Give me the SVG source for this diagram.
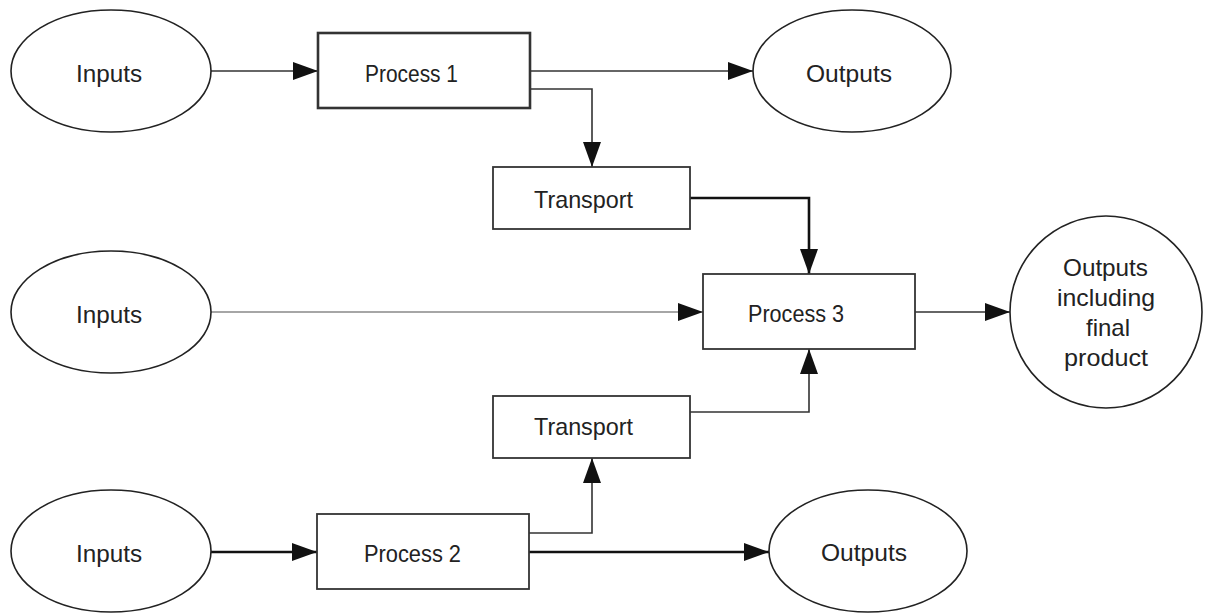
<svg xmlns="http://www.w3.org/2000/svg" width="1205" height="613" viewBox="0 0 1205 613">
  <defs>
    <marker id="arrow" markerUnits="userSpaceOnUse" markerWidth="26" markerHeight="20" refX="25" refY="9" orient="auto">
      <path d="M0,0 L25,9 L0,18 Z" fill="#111"/>
    </marker>
  </defs>
  <style>
    .oval { fill: #fff; stroke: #222; stroke-width: 1.6; }
    .box { fill: #fff; stroke: #333; stroke-width: 1.8; }
    .box.heavy { stroke-width: 2.6; }
    .label { font-family: "Liberation Sans", Arial, sans-serif; font-size: 24px; fill: #222; }
    .link { fill: none; stroke: #333; stroke-width: 1.6; marker-end: url(#arrow); }
    .link.light { stroke: #888; }
    .link.heavy { stroke: #111; stroke-width: 2.6; }
  </style>
  <rect width="1205" height="613" fill="#fff"/>

  <!-- connectors -->
  <g id="connectors">
    <path class="link" d="M211,71 H318"/>
    <path class="link" d="M530,71 H753"/>
    <path class="link" d="M530,89 H592 V167"/>
    <path class="link heavy" d="M690,198 H809 V274"/>
    <path class="link light" d="M211,312 H703"/>
    <path class="link" d="M915,312 H1010"/>
    <path class="link" d="M690,412 H809 V349"/>
    <path class="link heavy" d="M211,552 H317"/>
    <path class="link" d="M529,533 H592 V458"/>
    <path class="link heavy" d="M529,552 H769"/>
  </g>

  <!-- top row -->
  <g id="inputs-1">
    <ellipse class="oval" cx="111" cy="71" rx="100" ry="61"/>
    <text class="label" x="76" y="82" textLength="66" lengthAdjust="spacingAndGlyphs">Inputs</text>
  </g>
  <g id="process-1">
    <rect class="box heavy" x="318" y="33" width="212" height="75"/>
    <text class="label" x="365" y="82" textLength="93" lengthAdjust="spacingAndGlyphs">Process 1</text>
  </g>
  <g id="outputs-1">
    <ellipse class="oval" cx="852" cy="71" rx="99" ry="61"/>
    <text class="label" x="806" y="82" textLength="86" lengthAdjust="spacingAndGlyphs">Outputs</text>
  </g>
  <g id="transport-1">
    <rect class="box" x="493" y="167" width="197" height="62"/>
    <text class="label" x="534" y="208" textLength="99" lengthAdjust="spacingAndGlyphs">Transport</text>
  </g>

  <!-- middle row -->
  <g id="inputs-2">
    <ellipse class="oval" cx="111" cy="312" rx="100" ry="61"/>
    <text class="label" x="76" y="323" textLength="66" lengthAdjust="spacingAndGlyphs">Inputs</text>
  </g>
  <g id="process-3">
    <rect class="box" x="703" y="274" width="212" height="75"/>
    <text class="label" x="748" y="322" textLength="96" lengthAdjust="spacingAndGlyphs">Process 3</text>
  </g>
  <g id="final-outputs">
    <circle class="oval" cx="1106" cy="312" r="96"/>
    <text class="label" x="1063" y="276" textLength="85" lengthAdjust="spacingAndGlyphs">Outputs</text>
    <text class="label" x="1057" y="306" textLength="98" lengthAdjust="spacingAndGlyphs">including</text>
    <text class="label" x="1086" y="336" textLength="44" lengthAdjust="spacingAndGlyphs">final</text>
    <text class="label" x="1064" y="366" textLength="84" lengthAdjust="spacingAndGlyphs">product</text>
  </g>

  <!-- bottom row -->
  <g id="transport-2">
    <rect class="box" x="493" y="396" width="197" height="62"/>
    <text class="label" x="534" y="435" textLength="99" lengthAdjust="spacingAndGlyphs">Transport</text>
  </g>
  <g id="inputs-3">
    <ellipse class="oval" cx="111" cy="551" rx="100" ry="61"/>
    <text class="label" x="76" y="562" textLength="66" lengthAdjust="spacingAndGlyphs">Inputs</text>
  </g>
  <g id="process-2">
    <rect class="box" x="317" y="514" width="212" height="75"/>
    <text class="label" x="364" y="562" textLength="97" lengthAdjust="spacingAndGlyphs">Process 2</text>
  </g>
  <g id="outputs-2">
    <ellipse class="oval" cx="868" cy="551" rx="99" ry="61"/>
    <text class="label" x="821" y="561" textLength="86" lengthAdjust="spacingAndGlyphs">Outputs</text>
  </g>
</svg>
